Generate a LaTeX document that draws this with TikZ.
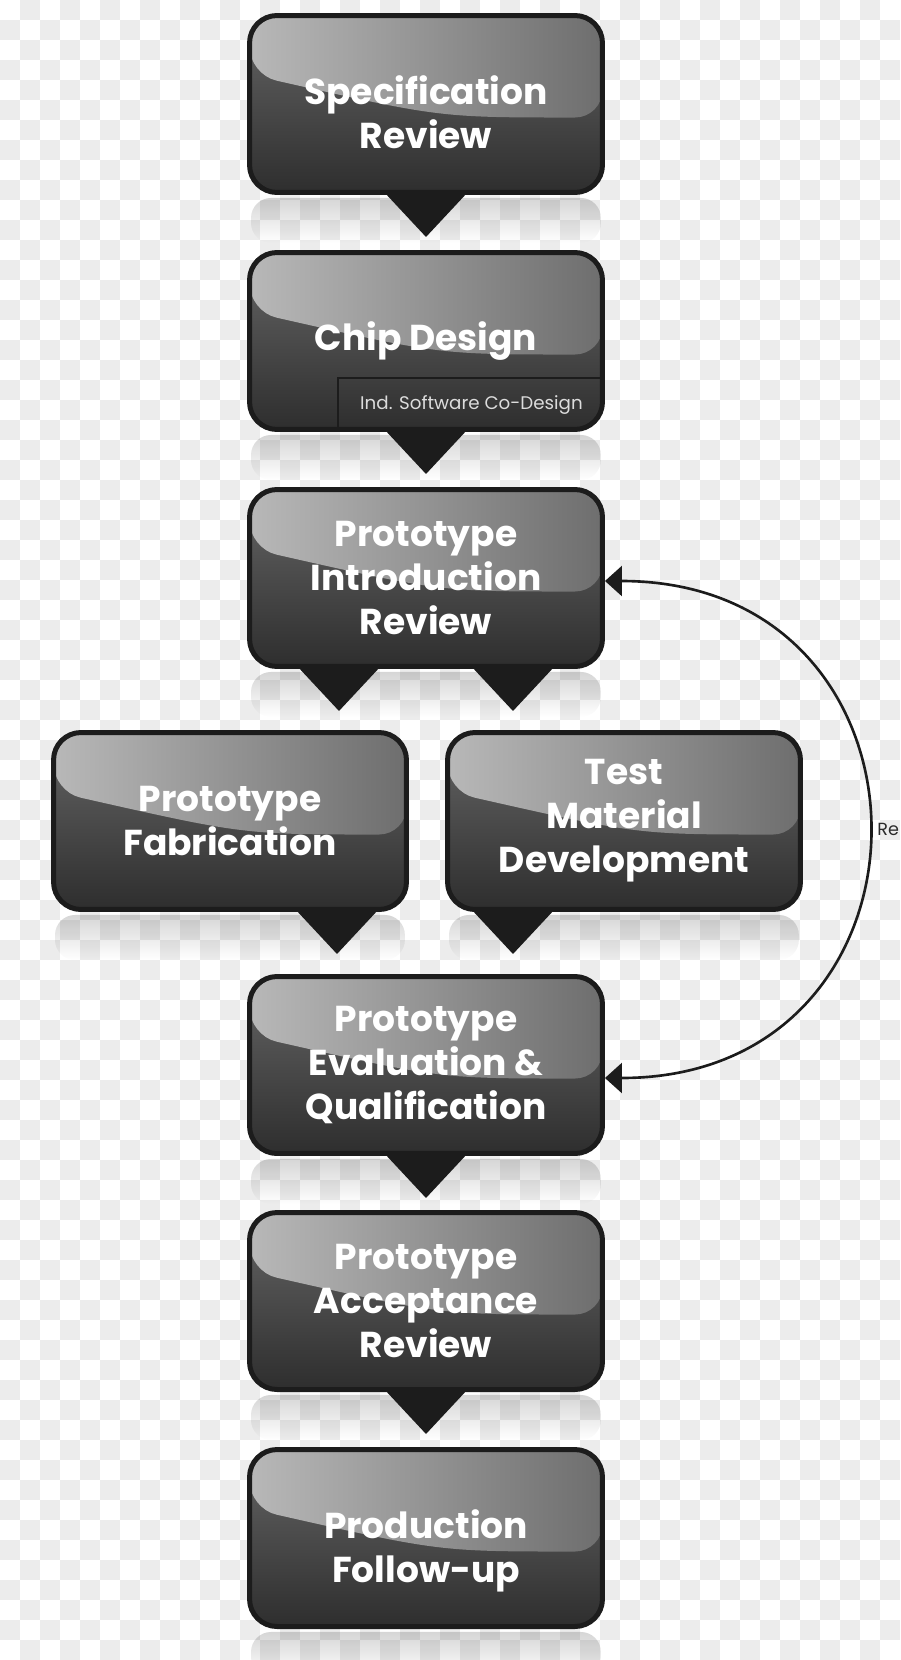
\documentclass[tikz,border=0pt]{standalone}
\usepackage{fontspec}
\usepackage{xcolor}
\usepackage{tikz}
\usetikzlibrary{calc, arrows.meta, fadings, positioning}
\newfontfamily\stagefont{Poppins}
\definecolor{checker}{HTML}{ECECEC}
\definecolor{edge}{HTML}{1C1C1C}
\definecolor{glossL}{HTML}{B8B8B8}
\definecolor{glossR}{HTML}{6E6E6E}
\definecolor{bodyT}{HTML}{666666}
\definecolor{bodyB}{HTML}{2E2E2E}
\definecolor{subtext}{HTML}{DCDCDC}
\definecolor{notetext}{HTML}{2A2A2A}
\newcommand\lowtext[1]{\raisebox{-0.28cm}[\height][\depth]{\begin{tabular}{@{}c@{}}#1\end{tabular}}}

\begin{document}
\begin{tikzpicture}[x=0.02cm, y=-0.02cm,
	stage/.style={rectangle, rounded corners=0.55cm, draw=edge, line width=0.1cm,
		top color=bodyT, bottom color=bodyB, minimum width=7.06cm, minimum height=3.54cm,
		inner sep=0pt, text=white, align=center,
		font=\stagefont\bfseries\fontsize{20.5}{25}\selectfont,
		path picture={\shade[left color=glossL, right color=glossR]
			(path picture bounding box.north west) -- (path picture bounding box.north east)
			-- ($(path picture bounding box.north east)+(0,102)$)
			.. controls ($(path picture bounding box.north west)+(190,102)$) ..
			($(path picture bounding box.north west)+(0,59)$) -- cycle;}},
	cosign/.style={minimum width=5.34cm, minimum height=1.08cm, inner sep=0pt, outer sep=0pt,
		text=subtext, font=\stagefont\fontsize{10.4}{12}\selectfont},
	subline/.style={draw=edge, line width=0.9pt},
	reflect/.style={fill=black, fill opacity=0.16, path fading=south, rounded corners=0.4cm},
	tail/.style={fill=edge},
	redo/.style={draw=edge, line width=1.5pt, {Triangle[length=0.34cm,width=0.6cm]}-{Triangle[length=0.34cm,width=0.6cm]}},
	note/.style={text=notetext, font=\stagefont\fontsize{10}{12}\selectfont, inner sep=0pt}]
	\useasboundingbox (0,0) rectangle (900,1660);
	
	% checker background
	\foreach \i in {0,2,...,44} \foreach \j in {1,3,...,81} \fill[checker] (\i*20,\j*20) rectangle ++(20,20);
	\foreach \i in {1,3,...,43} \foreach \j in {0,2,...,82} \fill[checker] (\i*20,\j*20) rectangle ++(20,20);
	
	\node[stage] (spec) at (426,104) {\lowtext{Specification\\Review}};
	\node[stage] (chip) at (426,341) {Chip Design};
	\node[stage] (intro) at (426,578) {Prototype\\Introduction\\Review};
	\node[stage] (fab) at (230,821) {Prototype\\Fabrication};
	\node[stage] (tmd) at (624,821) {Test\\Material\\Development};
	\node[stage] (eval) at (426,1065) {Prototype\\Evaluation \&\\Qualification};
	\node[stage] (accept) at (426,1301) {Prototype\\Acceptance\\Review};
	\node[stage] (prod) at (426,1538) {\lowtext{Production\\Follow-up}};
	
	\node[cosign, anchor=south east] (cosw) at (chip.south east) {Ind. Software Co-Design};
	\draw[subline] (cosw.south west) |- (cosw.north east);
	
	\foreach \n in {spec,chip,intro,fab,tmd,eval,accept,prod}
		\fill[reflect] ($(\n.south west)+(4,3)$) rectangle ($(\n.south east)+(-4,48)$);
	
	\foreach \n/\d in {spec/0, chip/0, intro/-87, intro/87, fab/107, tmd/-111, eval/0, accept/0}
		\fill[tail] ($(\n.south)+(\d-42,-3)$) -- ++(84,0) -- ($(\n.south)+(\d,42)$) -- cycle;
	
	\draw[redo] ($(intro.east)+(0,3)$) .. controls +(350,0) and +(350,0) .. ($(eval.east)+(0,13)$);
	\node[note, anchor=west] (rework) at (877,829) {Re};
\end{tikzpicture}
\end{document}
